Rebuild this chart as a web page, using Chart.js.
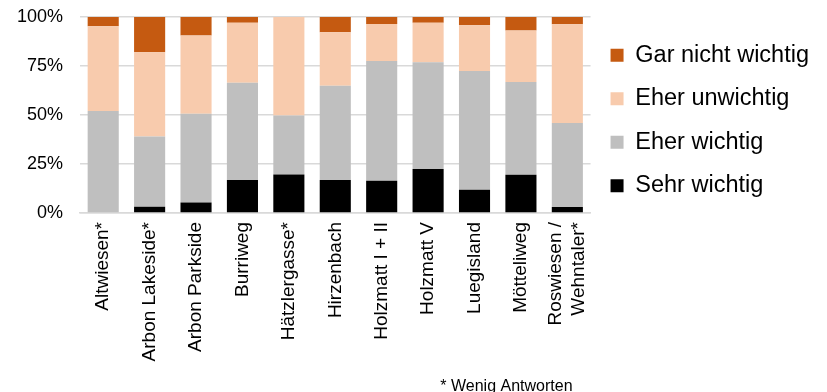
<!DOCTYPE html>
<html>
<head>
<meta charset="utf-8">
<script src="https://cdn.jsdelivr.net/npm/chart.js@4"></script>
<style>
    html, body { margin: 0; padding: 0; background: #fff; }
    #wrap { width: 827px; height: 392px; }
</style>
</head>
<body>
<div id="wrap"><canvas id="chartWichtig"></canvas></div>
<script>
// Siedlungen
const tags = ["Altwiesen*", "Arbon Lakeside*", "Arbon Parkside", "Burriweg", "Hätzlergasse*",
    "Hirzenbach", "Holzmatt I + II", "Holzmatt V", "Luegisland", "Mötteliweg",
    ["Roswiesen /", "Wehntaler*"]];

// Anteile in %
const sehrWichtig    = [0.0, 3.2, 5.3, 16.9, 19.7, 16.8, 16.4, 22.4, 11.9, 19.5, 3.1];
const eherWichtig    = [52.0, 35.8, 45.4, 49.5, 30.0, 48.1, 61.2, 54.5, 60.5, 47.4, 42.8];
const eherUnwichtig  = [43.3, 43.0, 39.8, 30.7, 50.3, 27.3, 18.8, 20.2, 23.4, 26.2, 50.4];
const garNichtWichtig = [4.7, 18.0, 9.5, 2.9, 0.0, 7.8, 3.6, 2.9, 4.2, 6.9, 3.7];

const yTicks = [0, 25, 50, 75, 100];

const fontFamily = '"Liberation Sans", Arial, sans-serif';
const xFontSize = 19;

// Fussnote unten rechts
const footnote = {
    id: 'footnote',
    afterDraw(chart) {
        const ctx = chart.ctx;
        ctx.save();
        ctx.font = '16px ' + fontFamily;
        ctx.fillStyle = '#000';
        ctx.textAlign = 'right';
        ctx.textBaseline = 'middle';
        ctx.fillText('* Wenig Antworten', chart.chartArea.right - 18, chart.height - 5);
        ctx.restore();
    }
};

// mehrzeilige, gedrehte Beschriftungen mittig unter den Balken setzen
const centerMultiline = {
    id: 'centerMultiline',
    beforeDraw(chart) {
        const lineHeight = xFontSize * 1.2;
        chart.scales.x.getLabelItems().forEach(item => {
            if (Array.isArray(item.label)) {
                item.options.translation[0] -= (item.label.length - 1) * lineHeight / 2;
            }
        });
    }
};

const bar = (label, data, color) => ({
    label: label,
    data: data,
    backgroundColor: color,
    borderWidth: 0,
    barPercentage: 0.67,
    categoryPercentage: 1.0
});

new Chart(document.querySelector("#chartWichtig"), {
    type: 'bar',
    data: {
        labels: tags,
        datasets: [
            bar("Sehr wichtig", sehrWichtig, '#000000'),
            bar("Eher wichtig", eherWichtig, '#BFBFBF'),
            bar("Eher unwichtig", eherUnwichtig, '#F8CBAD'),
            bar("Gar nicht wichtig", garNichtWichtig, '#C55A11')
        ]
    },
    options: {
        responsive: true,
        maintainAspectRatio: false,
        animation: false,
        layout: {
            padding: {top: 17, left: 17, right: 8, bottom: 29}
        },
        plugins: {
            legend: {
                position: 'right',
                align: 'start',
                reverse: true,
                maxWidth: 240,
                // leerer Titel als Abstand nach oben
                title: {display: true, text: '', padding: 0, font: {size: 5.5}},
                labels: {
                    boxWidth: 13,
                    boxHeight: 13,
                    padding: 20,
                    color: '#000',
                    font: {family: fontFamily, size: 23.5}
                }
            },
            tooltip: {enabled: false}
        },
        scales: {
            x: {
                stacked: true,
                grid: {display: false, drawTicks: false},
                border: {display: true, color: '#D9D9D9', width: 1.5},
                ticks: {
                    autoSkip: false,
                    maxRotation: 90,
                    minRotation: 90,
                    padding: 9,
                    color: '#000',
                    font: {family: fontFamily, size: xFontSize}
                },
                afterFit: (axis) => {
                    axis.height = 150;
                    axis.paddingLeft = 0;
                    axis.paddingRight = 0;
                }
            },
            y: {
                stacked: true,
                min: 0,
                max: 100,
                afterBuildTicks: (axis) => {
                    axis.ticks = yTicks.map(v => ({value: v}));
                },
                grid: {color: '#D9D9D9', lineWidth: 1.5, drawTicks: false},
                border: {display: false},
                ticks: {
                    padding: 17,
                    color: '#000',
                    font: {family: fontFamily, size: 18},
                    callback: (v) => v + '%'
                },
                afterFit: (axis) => {
                    axis.width = 63;
                    axis.paddingTop = 0;
                    axis.paddingBottom = 0;
                }
            }
        }
    },
    plugins: [footnote, centerMultiline]
});
</script>
</body>
</html>
